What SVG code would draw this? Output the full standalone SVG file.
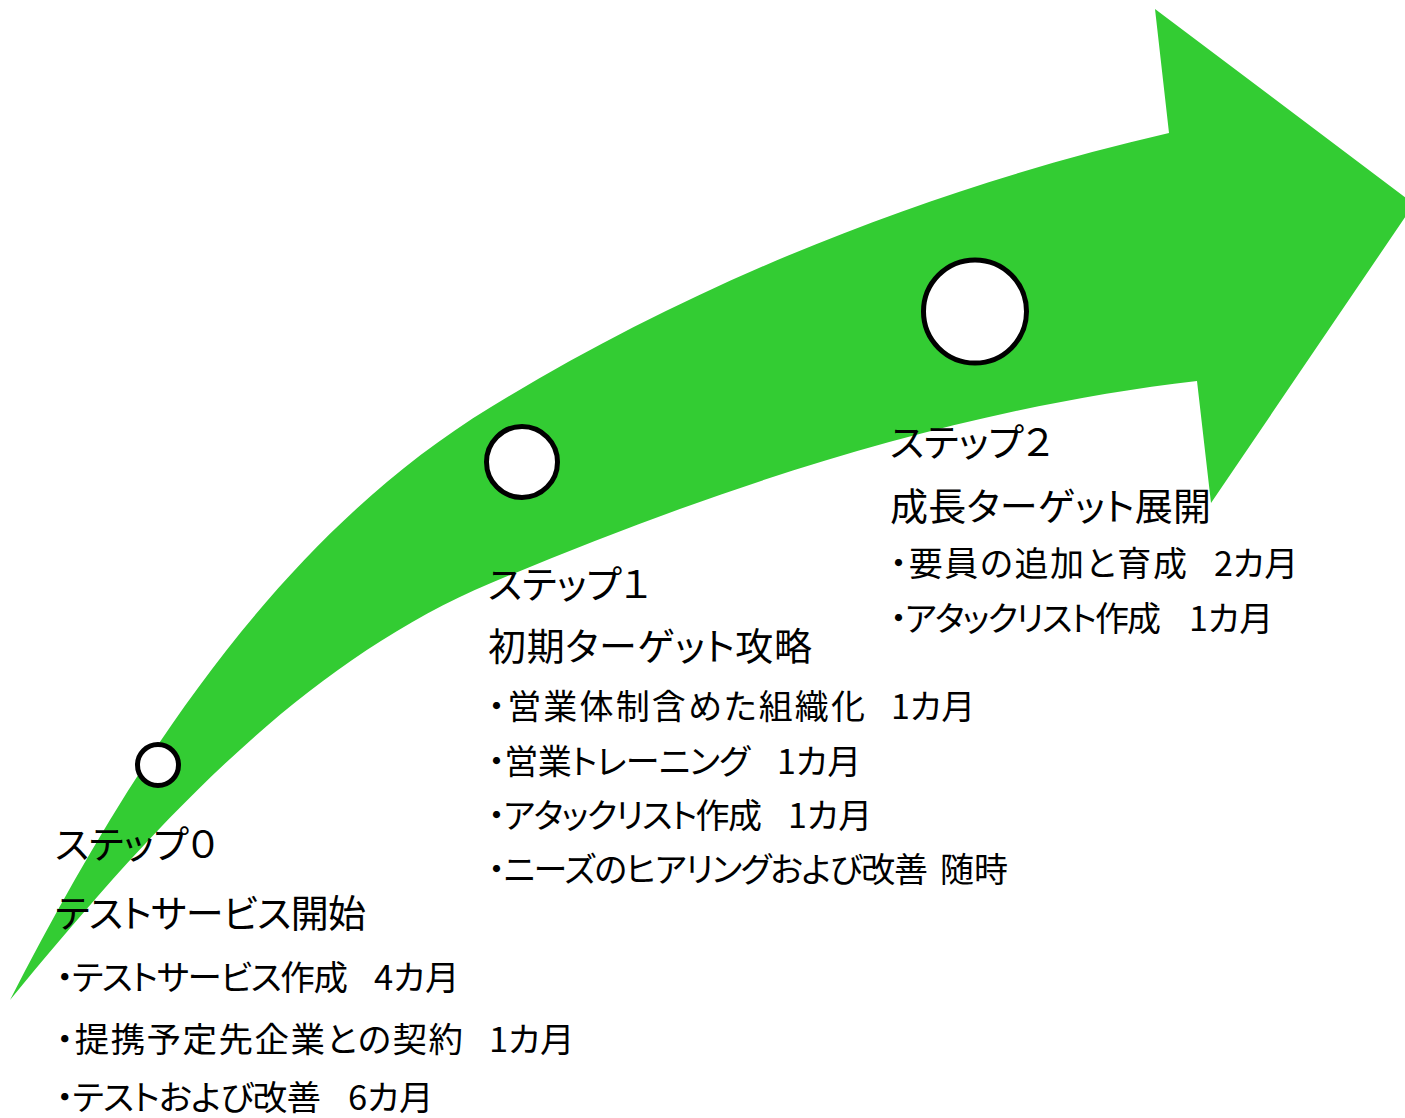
<svg xmlns="http://www.w3.org/2000/svg" width="1405" height="1118" viewBox="0 0 1405 1118">
<style>
.arrow{fill:#33CC33;stroke:none}
.dot{fill:#FFFFFF;stroke:#000000;stroke-width:5}
text{font-family:"Noto Sans CJK JP","Noto Sans",sans-serif;fill:#000000;font-feature-settings:"palt" 1}
.t{font-size:38px}
.b{font-size:34px}
.b0{font-size:34.5px}
</style>
<rect width="1405" height="1118" fill="#FFFFFF"/>
<g id="arrow">
<path class="arrow" d="M10,1000 C126,774 274,539 491,407 C699,280 931,188 1169,133 L1155,9 L1414,204 L1211,503 L1197,381 C954,409 717,488 491,583 C296,665 145,836 10,1000 Z"/>
</g>
<g id="step0">
<circle class="dot" cx="158" cy="765" r="20.5"/>
<text class="t" x="55" y="858">ステップ０</text>
<text class="t" x="55" y="927" textLength="311" lengthAdjust="spacing">テストサービス開始</text>
<text class="b0" x="56" y="990" textLength="292" lengthAdjust="spacing">・テストサービス作成</text>
<text class="b0" x="374" y="990">4カ月</text>
<text class="b0" x="56" y="1052" textLength="407" lengthAdjust="spacing">・提携予定先企業との契約</text>
<text class="b0" x="489" y="1052">1カ月</text>
<text class="b0" x="56" y="1110" textLength="265" lengthAdjust="spacing">・テストおよび改善</text>
<text class="b0" x="348" y="1110">6カ月</text>
</g>
<g id="step1">
<circle class="dot" cx="522" cy="462" r="35.5"/>
<text class="t" x="488" y="598">ステップ１</text>
<text class="t" x="488" y="660" textLength="324" lengthAdjust="spacing">初期ターゲット攻略</text>
<text class="b" x="488" y="719" textLength="377" lengthAdjust="spacing">・営業体制含めた組織化</text>
<text class="b" x="891" y="719">1カ月</text>
<text class="b" x="488" y="774" textLength="262" lengthAdjust="spacing">・営業トレーニング</text>
<text class="b" x="777" y="774">1カ月</text>
<text class="b" x="488" y="828" textLength="274" lengthAdjust="spacing">・アタックリスト作成</text>
<text class="b" x="788" y="828">1カ月</text>
<text class="b" x="488" y="882" textLength="440" lengthAdjust="spacing">・ニーズのヒアリングおよび改善</text>
<text class="b" x="940" y="882">随時</text>
</g>
<g id="step2">
<circle class="dot" cx="975" cy="311.5" r="51.5"/>
<text class="t" x="890" y="456">ステップ２</text>
<text class="t" x="890" y="520" textLength="321" lengthAdjust="spacing">成長ターゲット展開</text>
<text class="b" x="890" y="576" textLength="297" lengthAdjust="spacing">・要員の追加と育成</text>
<text class="b" x="1214" y="576">2カ月</text>
<text class="b" x="890" y="631" textLength="271" lengthAdjust="spacing">・アタックリスト作成</text>
<text class="b" x="1189" y="631">1カ月</text>
</g>
<g id="connectors"></g>
</svg>
